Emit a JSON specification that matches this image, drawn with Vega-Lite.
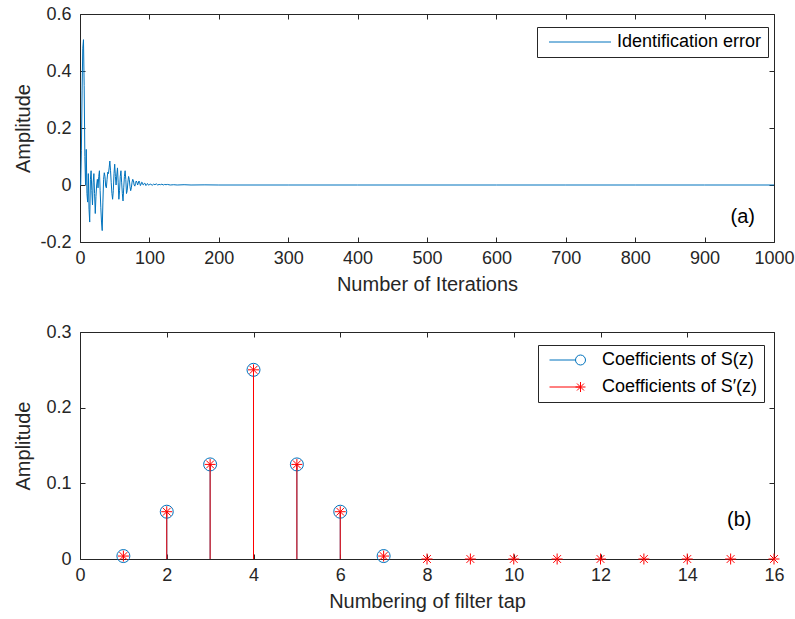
{
  "$schema": "https://vega.github.io/schema/vega-lite/v6.json",
  "padding": {"left": 12, "top": 4, "right": 10, "bottom": 5},
  "spacing": 27,
  "resolve": {"scale": {"color": "independent"}, "legend": {"color": "independent"}},
  "config": {
    "font": "Liberation Sans",
    "view": {"stroke": "#262626", "strokeWidth": 1},
    "axis": {
      "grid": false, "domain": false, "labelFlush": false,
      "tickColor": "#262626", "labelColor": "#262626", "titleColor": "#262626",
      "labelFont": "Liberation Sans", "titleFont": "Liberation Sans",
      "labelFontSize": 18, "titleFontSize": 20, "titleFontWeight": "normal",
      "tickSize": -5, "tickWidth": 1
    },
    "axisX": {"labelPadding": 12, "titlePadding": 7},
    "axisY": {"labelPadding": 14},
    "legend": {
      "title": null, "orient": "none",
      "strokeColor": "#262626", "fillColor": "white", "cornerRadius": 0,
      "padding": 6, "labelFont": "Liberation Sans", "labelFontSize": 18, "labelColor": "#000000",
      "symbolSize": 100, "symbolStrokeWidth": 1
    }
  },
  "datasets": {
    "err": [
      {"iter": 0, "err": 0}, {"iter": 1, "err": 0.0}, {"iter": 2, "err": 0.12}, {"iter": 3, "err": 0.33},
      {"iter": 4, "err": 0.48}, {"iter": 5, "err": 0.51}, {"iter": 6, "err": 0.35}, {"iter": 7, "err": 0.1},
      {"iter": 8, "err": 0.0}, {"iter": 9, "err": 0.125}, {"iter": 10, "err": -0.03}, {"iter": 11, "err": -0.06},
      {"iter": 12, "err": 0.04}, {"iter": 13, "err": -0.085}, {"iter": 14, "err": -0.13}, {"iter": 15, "err": 0.02},
      {"iter": 16, "err": 0.05}, {"iter": 17, "err": -0.02}, {"iter": 18, "err": -0.07}, {"iter": 19, "err": 0.01},
      {"iter": 20, "err": 0.04}, {"iter": 21, "err": -0.03}, {"iter": 22, "err": -0.1}, {"iter": 23, "err": -0.04},
      {"iter": 24, "err": 0.0}, {"iter": 25, "err": 0.02}, {"iter": 26, "err": -0.01}, {"iter": 27, "err": 0.03},
      {"iter": 28, "err": 0.05}, {"iter": 29, "err": -0.02}, {"iter": 30, "err": -0.08}, {"iter": 31, "err": -0.13},
      {"iter": 32, "err": -0.16}, {"iter": 33, "err": -0.06}, {"iter": 34, "err": 0.02}, {"iter": 35, "err": 0.043},
      {"iter": 36, "err": 0.03}, {"iter": 37, "err": -0.005}, {"iter": 38, "err": -0.01}, {"iter": 39, "err": 0.02},
      {"iter": 40, "err": 0.045}, {"iter": 41, "err": 0.04}, {"iter": 42, "err": 0.06}, {"iter": 43, "err": 0.084},
      {"iter": 44, "err": 0.05}, {"iter": 45, "err": 0.008}, {"iter": 46, "err": -0.03}, {"iter": 47, "err": -0.05},
      {"iter": 48, "err": -0.02}, {"iter": 49, "err": 0.04}, {"iter": 50, "err": 0.073}, {"iter": 51, "err": 0.03},
      {"iter": 52, "err": 0.0}, {"iter": 53, "err": 0.035}, {"iter": 54, "err": 0.06}, {"iter": 55, "err": 0.01},
      {"iter": 56, "err": -0.05}, {"iter": 57, "err": -0.02}, {"iter": 58, "err": 0.03}, {"iter": 59, "err": 0.05},
      {"iter": 60, "err": 0.01}, {"iter": 61, "err": -0.03}, {"iter": 62, "err": -0.056}, {"iter": 63, "err": -0.01},
      {"iter": 64, "err": 0.03}, {"iter": 65, "err": 0.05}, {"iter": 66, "err": 0.02}, {"iter": 67, "err": -0.03},
      {"iter": 68, "err": -0.02}, {"iter": 69, "err": 0.01}, {"iter": 70, "err": 0.03}, {"iter": 71, "err": 0.02},
      {"iter": 72, "err": -0.005}, {"iter": 73, "err": -0.02}, {"iter": 74, "err": -0.01}, {"iter": 75, "err": 0.01},
      {"iter": 76, "err": 0.02}, {"iter": 77, "err": 0.015}, {"iter": 78, "err": 0.0}, {"iter": 79, "err": -0.004},
      {"iter": 80, "err": 0.005}, {"iter": 81, "err": 0.014}, {"iter": 82, "err": 0.01}, {"iter": 83, "err": 0.0},
      {"iter": 84, "err": 0.006}, {"iter": 85, "err": 0.014}, {"iter": 86, "err": 0.008}, {"iter": 87, "err": -0.002},
      {"iter": 88, "err": 0.003}, {"iter": 89, "err": 0.01}, {"iter": 90, "err": 0.008}, {"iter": 91, "err": 0.0},
      {"iter": 92, "err": 0.002}, {"iter": 93, "err": 0.006}, {"iter": 94, "err": 0.005}, {"iter": 95, "err": -0.002},
      {"iter": 96, "err": 0.001}, {"iter": 97, "err": 0.005}, {"iter": 98, "err": 0.003}, {"iter": 99, "err": -0.001},
      {"iter": 100, "err": 0.002}, {"iter": 102, "err": 0.003}, {"iter": 104, "err": -0.001}, {"iter": 106, "err": 0.003},
      {"iter": 108, "err": 0.001}, {"iter": 110, "err": 0.004}, {"iter": 112, "err": 0.0}, {"iter": 114, "err": 0.002},
      {"iter": 116, "err": 0.001}, {"iter": 118, "err": 0.003}, {"iter": 120, "err": 0.0}, {"iter": 122, "err": 0.002},
      {"iter": 124, "err": 0.001}, {"iter": 126, "err": 0.002}, {"iter": 130, "err": 0.0}, {"iter": 135, "err": 0.001},
      {"iter": 140, "err": 0.0}, {"iter": 150, "err": 0.001}, {"iter": 160, "err": 0}, {"iter": 180, "err": 0.0005},
      {"iter": 200, "err": 0}, {"iter": 300, "err": 0}, {"iter": 400, "err": 0}, {"iter": 500, "err": 0},
      {"iter": 600, "err": 0}, {"iter": 700, "err": 0}, {"iter": 800, "err": 0}, {"iter": 900, "err": 0},
      {"iter": 1000, "err": 0}
    ],
    "coef": [
      {"tap": 1, "coef": 0.0039, "series": "Coefficients of S(z)"},
      {"tap": 2, "coef": 0.0625, "series": "Coefficients of S(z)"},
      {"tap": 3, "coef": 0.125, "series": "Coefficients of S(z)"},
      {"tap": 4, "coef": 0.25, "series": "Coefficients of S(z)"},
      {"tap": 5, "coef": 0.125, "series": "Coefficients of S(z)"},
      {"tap": 6, "coef": 0.0625, "series": "Coefficients of S(z)"},
      {"tap": 7, "coef": 0.0039, "series": "Coefficients of S(z)"},
      {"tap": 1, "coef": 0.0039, "series": "Coefficients of S′(z)"},
      {"tap": 2, "coef": 0.0625, "series": "Coefficients of S′(z)"},
      {"tap": 3, "coef": 0.125, "series": "Coefficients of S′(z)"},
      {"tap": 4, "coef": 0.25, "series": "Coefficients of S′(z)"},
      {"tap": 5, "coef": 0.125, "series": "Coefficients of S′(z)"},
      {"tap": 6, "coef": 0.0625, "series": "Coefficients of S′(z)"},
      {"tap": 7, "coef": 0.0039, "series": "Coefficients of S′(z)"},
      {"tap": 8, "coef": 0, "series": "Coefficients of S′(z)"},
      {"tap": 9, "coef": 0, "series": "Coefficients of S′(z)"},
      {"tap": 10, "coef": 0, "series": "Coefficients of S′(z)"},
      {"tap": 11, "coef": 0, "series": "Coefficients of S′(z)"},
      {"tap": 12, "coef": 0, "series": "Coefficients of S′(z)"},
      {"tap": 13, "coef": 0, "series": "Coefficients of S′(z)"},
      {"tap": 14, "coef": 0, "series": "Coefficients of S′(z)"},
      {"tap": 15, "coef": 0, "series": "Coefficients of S′(z)"},
      {"tap": 16, "coef": 0, "series": "Coefficients of S′(z)"}
    ]
  },
  "vconcat": [
    {
      "width": 694,
      "height": 228,
      "layer": [
        {
          "data": {"name": "err"},
          "mark": {"type": "line", "strokeWidth": 1, "clip": true},
          "encoding": {
            "x": {"field": "iter", "type": "quantitative",
              "scale": {"domain": [0, 1000], "nice": false, "zero": false},
              "axis": {"orient": "bottom", "values": [0, 100, 200, 300, 400, 500, 600, 700, 800, 900, 1000], "format": "d", "title": "Number of Iterations"}},
            "y": {"field": "err", "type": "quantitative",
              "scale": {"domain": [-0.2, 0.6], "nice": false, "zero": false},
              "axis": {"orient": "left", "values": [-0.2, 0, 0.2, 0.4, 0.6], "title": "Amplitude", "titleX": -47,
                "labelExpr": "datum.value < 0 ? '-' + format(-datum.value, '~g') : format(datum.value, '~g')"}},
            "color": {"datum": "Identification error", "type": "nominal",
              "scale": {"domain": ["Identification error"], "range": ["#0072BD"]},
              "legend": {"legendX": 457, "legendY": 13, "labelOffset": 56,
                "encode": {"symbols": {"update": {"shape": {"value": "M-0.6,0H11.8"}, "fill": {"value": "transparent"}}}}}}
          }
        },
        {
          "data": {"values": [{"label": "(a)"}]},
          "mark": {"type": "text", "fontSize": 20, "font": "Liberation Sans", "color": "#000000"},
          "encoding": {
            "x": {"datum": 955, "type": "quantitative",
              "axis": {"orient": "top", "labels": false, "title": null, "values": [0, 100, 200, 300, 400, 500, 600, 700, 800, 900, 1000]}},
            "y": {"datum": -0.112, "type": "quantitative",
              "axis": {"orient": "right", "labels": false, "title": null, "values": [-0.2, 0, 0.2, 0.4, 0.6]}},
            "text": {"field": "label"}
          }
        }
      ],
      "resolve": {"axis": {"x": "independent", "y": "independent"}}
    },
    {
      "width": 694,
      "height": 227,
      "layer": [
        {
          "data": {"name": "coef"},
          "transform": [{"filter": "datum.series === 'Coefficients of S(z)'"}],
          "mark": {"type": "rule", "strokeWidth": 1},
          "encoding": {
            "x": {"field": "tap", "type": "quantitative",
              "scale": {"domain": [0, 16], "nice": false, "zero": false},
              "axis": {"orient": "bottom", "values": [0, 2, 4, 6, 8, 10, 12, 14, 16], "format": "d", "title": "Numbering of filter tap"}},
            "y": {"field": "coef", "type": "quantitative",
              "scale": {"domain": [0, 0.3], "nice": false},
              "axis": {"orient": "left", "values": [0, 0.1, 0.2, 0.3], "title": "Amplitude", "titleX": -47,
                "labelExpr": "format(datum.value, '~g')"}},
            "y2": {"datum": 0},
            "color": {"field": "series", "type": "nominal",
              "scale": {"domain": ["Coefficients of S(z)", "Coefficients of S′(z)"], "range": ["#0072BD", "#FF0000"]},
              "legend": {"legendX": 458, "legendY": 13, "labelOffset": 40, "rowPadding": 9,
                "encode": {"symbols": {"update": {
                  "shape": {"signal": "datum.value === 'Coefficients of S(z)' ? 'M-0.7,0H4.5M4.5,0A1,1 0 1,0 6.5,0A1,1 0 1,0 4.5,0' : 'M-0.7,0H5.5M4.5,0H6.5M5.5,-1V1M4.8,-0.7L6.2,0.7M4.8,0.7L6.2,-0.7'"},
                  "fill": {"value": "transparent"}}}}}}
          }
        },
        {
          "data": {"name": "coef"},
          "transform": [{"filter": "datum.series === 'Coefficients of S(z)'"}],
          "mark": {"type": "point", "shape": "circle", "size": 169, "filled": false, "strokeWidth": 1, "opacity": 1},
          "encoding": {
            "x": {"field": "tap", "type": "quantitative", "axis": null},
            "y": {"field": "coef", "type": "quantitative", "axis": null},
            "color": {"field": "series", "type": "nominal"}
          }
        },
        {
          "data": {"name": "coef"},
          "transform": [{"filter": "datum.series !== 'Coefficients of S(z)'"}],
          "mark": {"type": "rule", "strokeWidth": 1},
          "encoding": {
            "x": {"field": "tap", "type": "quantitative", "axis": null},
            "y": {"field": "coef", "type": "quantitative", "axis": null},
            "y2": {"datum": 0},
            "color": {"field": "series", "type": "nominal"}
          }
        },
        {
          "data": {"name": "coef"},
          "transform": [{"filter": "datum.series !== 'Coefficients of S(z)'"}],
          "mark": {"type": "point", "shape": "M-1,0H1M0,-1V1M-0.71,-0.71L0.71,0.71M-0.71,0.71L0.71,-0.71", "size": 121, "filled": false, "strokeWidth": 1, "opacity": 1},
          "encoding": {
            "x": {"field": "tap", "type": "quantitative", "axis": null},
            "y": {"field": "coef", "type": "quantitative", "axis": null},
            "color": {"field": "series", "type": "nominal"}
          }
        },
        {
          "data": {"values": [{"label": "(b)"}]},
          "mark": {"type": "text", "fontSize": 20, "font": "Liberation Sans", "color": "#000000"},
          "encoding": {
            "x": {"datum": 15.2, "type": "quantitative",
              "axis": {"orient": "top", "labels": false, "title": null, "values": [0, 2, 4, 6, 8, 10, 12, 14, 16]}},
            "y": {"datum": 0.0515, "type": "quantitative",
              "axis": {"orient": "right", "labels": false, "title": null, "values": [0, 0.1, 0.2, 0.3]}},
            "text": {"field": "label"}
          }
        }
      ],
      "resolve": {"axis": {"x": "independent", "y": "independent"}}
    }
  ]
}
